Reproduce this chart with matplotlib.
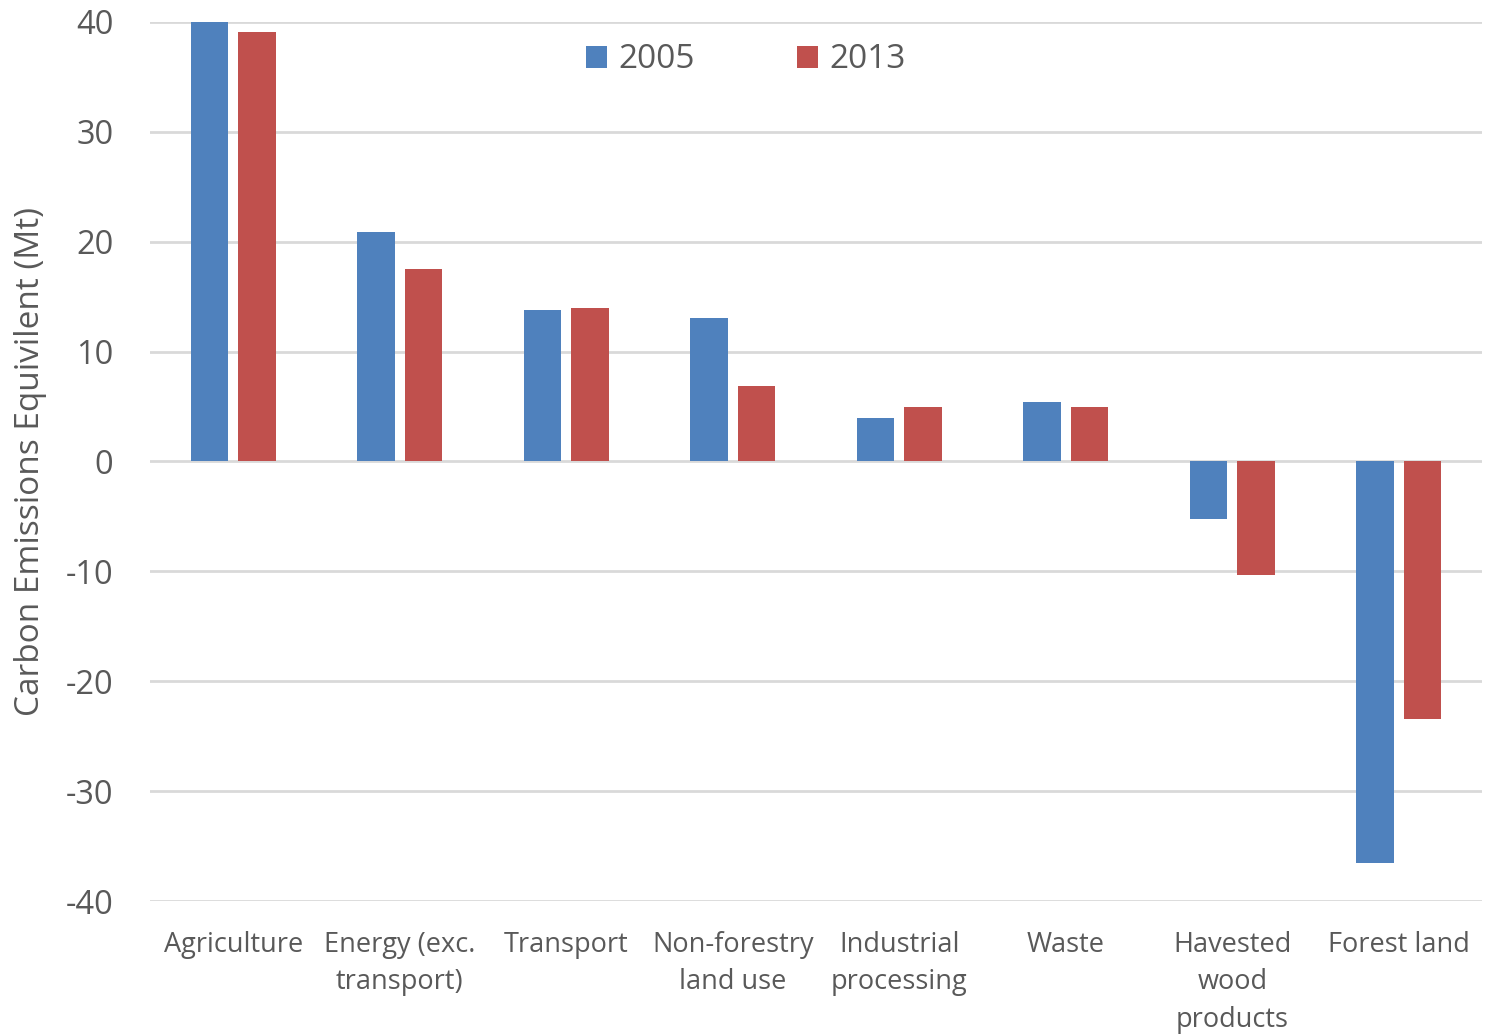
import matplotlib.pyplot as plt
import numpy as np

# emissions by sector (Mt CO2-e)
categories = ['Agriculture', 'Energy (exc.\ntransport)', 'Transport', 'Non-forestry\nland use',
              'Industrial\nprocessing', 'Waste', 'Havested\nwood\nproducts', 'Forest land']
values_2005 = [40.0, 20.9, 13.8, 13.1, 4.0, 5.4, -5.2, -36.5]
values_2013 = [39.1, 17.5, 14.0, 6.9, 5.0, 4.96, -10.3, -23.4]
y_ticks = [-40, -30, -20, -10, 0, 10, 20, 30, 40]

blue = '#4F81BD'
red = '#C0504D'
text_col = '#595959'
grid_col = '#D9D9D9'

plt.rcParams['font.family'] = ['Open Sans', 'DejaVu Sans']

fig = plt.figure(figsize=(14.87, 10.34), dpi=100)
ax = fig.add_axes([150 / 1487, 1 - 901 / 1034, (1482 - 150) / 1487, (901 - 22) / 1034])

x = np.arange(len(categories))
w = 0.225
ax.bar(x - 0.143, values_2005, w, color=blue, label='2005', zorder=3)
ax.bar(x + 0.143, values_2013, w, color=red, label='2013', zorder=3)

ax.set_xlim(-0.5, len(categories) - 0.5)
ax.set_ylim(-40, 40)
ax.set_yticks(y_ticks)
ax.set_yticklabels([str(t) for t in y_ticks], fontsize=23.5, color=text_col)
ax.yaxis.grid(True, color=grid_col, linewidth=2, zorder=0)
ax.tick_params(axis='both', length=0)
ax.tick_params(axis='y', pad=26.5)
ax.set_xticks([])
for s in ax.spines.values():
    s.set_visible(False)

# category names sit below the -40 line
for xi, name in zip(x, categories):
    ax.text(xi, -42.7, name, ha='center', va='top', fontsize=19.5, color=text_col,
            linespacing=1.45)

ax.set_ylabel('Carbon Emissions Equivilent (Mt)', fontsize=24, color=text_col)
ax.yaxis.set_label_coords(-103 / 1332, 0.5)

leg = fig.legend(loc='center', bbox_to_anchor=(746 / 1487, 1 - 60 / 1034), ncol=2,
                 frameon=False, fontsize=24, handlelength=0.62, handleheight=0.62,
                 handletextpad=0.35, columnspacing=3.07, labelcolor=text_col)

fig.savefig('out.png', dpi=100)
